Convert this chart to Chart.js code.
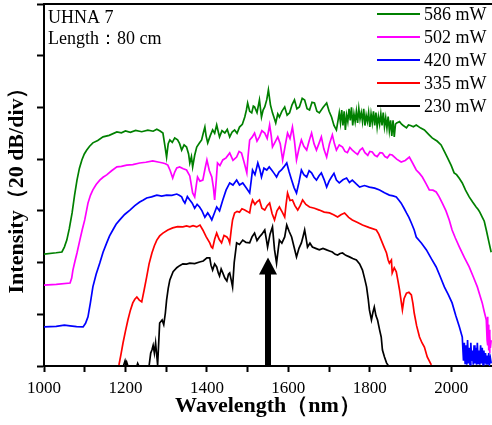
<!DOCTYPE html>
<html>
<head>
<meta charset="utf-8">
<script src="https://cdn.jsdelivr.net/npm/chart.js@4.4.0/dist/chart.umd.min.js"></script>
<style>
  body { margin: 0; background: #fff; }
  canvas { display: block; }
</style>
</head>
<body>
<canvas id="spectrum" width="492" height="425"></canvas>
<script>
// Supercontinuum spectra, UHNA 7 fibre, 80 cm, for five pump powers
const powers = ['586 mW', '502 mW', '420 mW', '335 mW', '230 mW'];
const lineColors = ['#008000', '#ff00ff', '#0000ff', '#ff0000', '#000000'];

// wavelength (nm), intensity (dB, 20 dB per division)
const spec586 = [
    [1000, 43.3], [1030, 43.8], [1044, 44.1], [1050, 46], [1056, 48.7], [1062, 53], [1069, 59.2],
    [1075, 66], [1081, 71.9], [1087, 76.5], [1093, 79.7], [1099, 82], [1105, 83.5], [1112, 85],
    [1120, 86.3], [1132, 87.2], [1145, 88.6], [1160, 89.2], [1179, 90.5], [1190, 90.2], [1200, 90.9],
    [1212, 90.4], [1225, 91.1], [1240, 90.6], [1255, 91.2], [1268, 90.8], [1277, 91.6], [1285, 90.9],
    [1292, 90.1], [1297, 85], [1301, 80.8], [1305, 86], [1309, 87.4], [1315, 86.5], [1321, 88.2],
    [1328, 87.5], [1333, 86], [1338, 83.5], [1344, 85.5], [1350, 84.7], [1355, 82], [1358, 78.5],
    [1362, 81], [1365, 77], [1370, 81.5], [1375, 84.7], [1382, 86.3], [1387, 87.4], [1391, 90],
    [1395, 92.4], [1398, 89], [1402, 86.3], [1408, 89], [1414, 91.3], [1419, 90], [1424, 93.2],
    [1428, 90.5], [1431, 88.6], [1437, 91], [1444, 90.1], [1450, 91.5], [1456, 88.6], [1462, 90.5],
    [1468, 91.3], [1474, 90], [1480, 92.4], [1487, 93.5], [1493, 96.3], [1497, 99], [1500, 101.7],
    [1505, 98.5], [1510, 97.9], [1514, 100.5], [1517, 100.2], [1523, 98], [1529, 102.9], [1534, 96.3],
    [1538, 99], [1542, 100.2], [1547, 103], [1551, 106.8], [1556, 101], [1561, 97.9], [1565, 96],
    [1569, 94], [1574, 97.5], [1578, 96.3], [1584, 98.5], [1591, 100.2], [1597, 97], [1603, 97.9],
    [1609, 101], [1615, 102.9], [1621, 99.5], [1627, 100.2], [1634, 103.5], [1640, 102.9], [1646, 99.5],
    [1652, 99], [1658, 102], [1664, 101.7], [1670, 98.5], [1676, 97.9], [1685, 100], [1694, 101.7],
    [1700, 98.5], [1706, 96.3], [1712, 93], [1718, 91.3], [1722, 95], [1725, 97.9], [1728, 94],
    [1731, 99], [1734, 93], [1737, 98.5], [1740, 91.3], [1743, 97], [1746, 94.5], [1749, 99.5],
    [1752, 95], [1755, 100], [1758, 93], [1761, 97.5], [1764, 94.5], [1767, 98.5], [1770, 94],
    [1773, 99.5], [1776, 95.5], [1779, 98], [1782, 94.5], [1785, 99.5], [1788, 93], [1791, 97],
    [1794, 94.5], [1797, 98], [1800, 92.5], [1803, 97.5], [1806, 94], [1809, 98.5], [1812, 93],
    [1815, 98], [1818, 92.5], [1821, 96.5], [1824, 93.5], [1827, 97.5], [1830, 93], [1833, 98],
    [1836, 92.5], [1839, 96], [1842, 92], [1845, 96.5], [1848, 91], [1851, 95], [1854, 89],
    [1857, 95], [1860, 88.6], [1863, 93.5], [1866, 94], [1873, 94.5], [1878, 93.5], [1882, 93],
    [1890, 92.1], [1895, 93.2], [1900, 93], [1907, 92.5], [1914, 93.2], [1925, 92], [1934, 91.3],
    [1945, 89.5], [1953, 88.2], [1960, 87.5], [1965, 87], [1975, 85.5], [1983, 83], [1990, 80.8],
    [2000, 77.5], [2007, 74.7], [2013, 74], [2020, 72.5], [2027, 70.8], [2035, 68], [2044, 65.4],
    [2052, 63.5], [2061, 61.5], [2066, 60.5], [2070, 59.5], [2076, 57.6], [2081, 56], [2086, 52.6],
    [2093, 47.5], [2098, 44]
];
const spec502 = [
    [1000, 31.3], [1030, 31.6], [1064, 32.1], [1068, 34], [1071, 37.1], [1076, 40.5], [1081, 43.7],
    [1088, 48.7], [1094, 52.8], [1100, 56.5], [1108, 63], [1114, 66], [1120, 68.1], [1128, 70.2],
    [1137, 71.9], [1145, 73], [1154, 73.9], [1166, 75.5], [1179, 77], [1190, 77.2], [1203, 77.7],
    [1218, 77.9], [1235, 78.5], [1250, 78.8], [1267, 79.3], [1280, 78.9], [1292, 78.5], [1298, 78.2],
    [1304, 77.7], [1310, 75.5], [1316, 72.7], [1321, 75], [1326, 76.6], [1333, 77], [1342, 76.3],
    [1350, 75.8], [1358, 73.5], [1365, 66.9], [1370, 65.4], [1374, 70], [1377, 73.1], [1383, 71.5],
    [1390, 71.9], [1395, 76], [1400, 79.7], [1406, 75.5], [1412, 73.1], [1416, 69], [1419, 64.2],
    [1423, 72], [1426, 78.5], [1432, 77.5], [1439, 79.7], [1447, 80.5], [1456, 82.4], [1464, 79.5],
    [1473, 80.8], [1479, 83], [1485, 82.4], [1491, 79], [1498, 74.7], [1501, 81], [1505, 87.4],
    [1511, 88.5], [1517, 90.1], [1523, 87], [1529, 88.6], [1535, 91], [1542, 90.1], [1548, 88],
    [1554, 93.2], [1558, 89], [1561, 84.7], [1567, 86.5], [1574, 88.6], [1580, 86], [1586, 79.7],
    [1592, 85], [1598, 90.1], [1604, 88], [1610, 92.4], [1615, 87], [1620, 79.7], [1626, 84],
    [1632, 87.4], [1638, 85], [1645, 83.5], [1651, 87], [1657, 90.1], [1663, 86], [1669, 83.5],
    [1675, 86], [1681, 88.6], [1687, 84], [1694, 80.8], [1701, 86], [1708, 89.4], [1713, 86],
    [1718, 83.5], [1725, 85.5], [1733, 84.7], [1739, 83], [1745, 82.5], [1751, 84.5], [1757, 83.5],
    [1764, 82.5], [1770, 81.8], [1776, 83.5], [1782, 84.3], [1788, 82.5], [1795, 81.5], [1800, 83],
    [1806, 82.8], [1812, 81.5], [1818, 81], [1825, 82.5], [1831, 82.4], [1837, 81], [1843, 80.5],
    [1849, 81.8], [1855, 81.6], [1866, 80], [1877, 78.9], [1887, 79.5], [1897, 80.8], [1905, 78.5],
    [1914, 75.8], [1922, 74.5], [1929, 73.1], [1938, 70.5], [1946, 68.1], [1955, 68], [1963, 67.3],
    [1970, 65.5], [1978, 63], [1987, 60], [1995, 56.5], [2002, 52.6], [2010, 49.5], [2020, 46],
    [2032, 42], [2044, 38.3], [2054, 34.5], [2064, 30.6], [2070, 27.5], [2076, 24.4], [2081, 21],
    [2086, 17.8], [2088, 10], [2089, 19], [2090, 8], [2091, 16], [2092, 6], [2093, 14], [2094, 5],
    [2095, 12], [2096, 7], [2098, 10]
];
const spec420 = [
    [1000, 15.1], [1030, 15.3], [1050, 15.8], [1064, 15.5], [1080, 15.2], [1096, 15.1], [1102, 16.5],
    [1108, 19], [1114, 24.5], [1120, 30.6], [1128, 35.5], [1137, 39.8], [1145, 44], [1154, 47.6],
    [1161, 50.3], [1169, 52.6], [1177, 54.8], [1186, 56.5], [1198, 58.6], [1211, 60.3], [1223, 62],
    [1235, 63.4], [1244, 64.2], [1252, 65], [1264, 65.4], [1277, 66.1], [1289, 65.7], [1301, 66.1],
    [1314, 66], [1326, 66.5], [1332, 66], [1338, 65.4], [1342, 64], [1346, 63], [1352, 65.5],
    [1358, 64.2], [1364, 63], [1370, 61], [1376, 62.5], [1382, 61.5], [1388, 60], [1395, 57.5],
    [1402, 59.2], [1407, 58], [1412, 56.5], [1418, 59], [1424, 61.5], [1431, 60], [1439, 64.2],
    [1447, 68], [1456, 70.8], [1464, 70], [1473, 71.9], [1480, 70], [1488, 70.8], [1496, 69],
    [1505, 66.9], [1509, 72], [1512, 75.8], [1518, 74], [1525, 78.5], [1530, 76], [1534, 73.1],
    [1540, 76.5], [1547, 75.8], [1553, 77], [1559, 75.8], [1565, 74.5], [1571, 73.1], [1577, 75],
    [1583, 75.8], [1589, 77], [1596, 78.5], [1602, 75], [1608, 71.9], [1614, 69], [1620, 66.9],
    [1626, 71], [1632, 75.8], [1638, 74], [1645, 73.1], [1651, 75.5], [1657, 74.7], [1663, 73],
    [1669, 71.9], [1675, 73.5], [1681, 74.7], [1688, 72], [1694, 69.2], [1700, 71.5], [1706, 73.1],
    [1712, 74.5], [1718, 71.9], [1725, 70.8], [1734, 72], [1743, 72.7], [1750, 71], [1757, 71.9],
    [1766, 70.5], [1775, 69.2], [1787, 69.8], [1799, 69.2], [1812, 68.8], [1824, 68.1], [1836, 67],
    [1848, 66.1], [1857, 65.8], [1865, 65.4], [1871, 64.2], [1877, 63], [1884, 61], [1890, 59.2],
    [1896, 57.5], [1902, 55.3], [1909, 52.6], [1914, 49.9], [1927, 47.5], [1939, 44.9], [1951, 41.5],
    [1963, 38.3], [1973, 34.5], [1983, 30.6], [1993, 27.5], [2002, 24.4], [2011, 19.5], [2020, 15.1],
    [2027, 11.2], [2030, 2], [2032, 9], [2034, 1], [2036, 8], [2038, 0.5], [2040, 10], [2042, 1],
    [2044, 7], [2046, 0.5], [2048, 9], [2050, 2], [2052, 6], [2054, 0.5], [2056, 8], [2058, 1],
    [2060, 7], [2062, 0.5], [2064, 9], [2066, 1], [2068, 6], [2070, 0.5], [2072, 8], [2074, 1],
    [2076, 7], [2078, 0.5], [2080, 6], [2082, 1], [2084, 5], [2086, 0.5], [2088, 4], [2090, 0.5],
    [2092, 5], [2094, 1], [2096, 3], [2098, 1]
];
const spec335 = [
    [1184, 0.4], [1189, 4.5], [1194, 8.9], [1200, 13.5], [1206, 17.8], [1212, 21.5], [1218, 24.4],
    [1223, 25.8], [1228, 26.7], [1234, 25.5], [1240, 24.8], [1246, 29.5], [1252, 34.4], [1258, 39.5],
    [1265, 43.7], [1271, 46.5], [1277, 48.7], [1284, 50.3], [1292, 51.4], [1304, 52.6], [1316, 53.4],
    [1328, 53.9], [1341, 53.8], [1350, 54.2], [1358, 53.8], [1366, 54.3], [1375, 53.8], [1383, 54.5],
    [1390, 52.6], [1398, 50], [1407, 47.6], [1411, 46], [1414, 45.6], [1419, 49], [1424, 51.4],
    [1430, 49], [1436, 47.6], [1442, 50.5], [1449, 49.9], [1453, 49], [1456, 47.6], [1460, 53],
    [1463, 56.5], [1468, 59.2], [1474, 59.8], [1480, 59.5], [1486, 60.8], [1493, 60.3], [1499, 59.8],
    [1505, 59.2], [1508, 62], [1512, 64.2], [1518, 62.5], [1523, 63.5], [1529, 64.2], [1535, 61],
    [1542, 60.3], [1548, 62], [1554, 63], [1560, 59], [1566, 56.5], [1572, 60], [1578, 61.5],
    [1585, 59.5], [1591, 57.6], [1594, 62], [1598, 66.9], [1604, 64], [1610, 64.2], [1616, 62],
    [1623, 60.3], [1629, 62], [1635, 64.2], [1643, 62.5], [1652, 61.5], [1664, 61], [1676, 60.3],
    [1688, 59.5], [1701, 59.2], [1711, 58.5], [1721, 57.6], [1729, 58.5], [1738, 59.2], [1748, 57.5],
    [1757, 56.5], [1770, 55.5], [1782, 54.5], [1799, 53.5], [1816, 52.6], [1822, 51], [1828, 48.7],
    [1835, 46], [1841, 43.7], [1845, 41], [1848, 39.8], [1853, 41], [1855, 36], [1860, 38],
    [1865, 36.4], [1869, 33], [1873, 29.4], [1877, 25], [1880, 21.7], [1884, 26], [1890, 28.2],
    [1896, 28.5], [1902, 27.5], [1906, 24], [1909, 20.5], [1915, 15.5], [1922, 11.2], [1928, 9],
    [1934, 7.3], [1941, 3.5], [1951, 0.4]
];
const spec230 = [
    [1195, 0], [1199, 2], [1201, 0.5], [1203, 1.5], [1206, 0], [1228, 0], [1230, 1], [1233, 0],
    [1258, 0], [1262, 5], [1265, 6.2], [1268, 8], [1271, 5], [1274, 8.9], [1279, 0.4], [1284, 16.6],
    [1290, 17.8], [1294, 16], [1298, 20.5], [1301, 25.5], [1305, 30], [1309, 33.3], [1317, 36.5],
    [1326, 38], [1333, 38.8], [1341, 39.5], [1350, 39.4], [1358, 39.8], [1370, 39.6], [1382, 40.2],
    [1391, 40.6], [1400, 41.8], [1407, 41.8], [1410, 39], [1414, 37.1], [1419, 39.5], [1424, 38.3],
    [1428, 36], [1431, 34.8], [1435, 37.5], [1439, 36], [1444, 34], [1449, 32.9], [1453, 35.5],
    [1456, 36], [1460, 33], [1463, 30.6], [1467, 40], [1473, 47.6], [1480, 47], [1488, 48.7],
    [1496, 47.8], [1505, 47.6], [1511, 50], [1517, 51.4], [1523, 48.5], [1529, 49.9], [1535, 51],
    [1542, 52.6], [1546, 49], [1549, 46], [1555, 51], [1561, 53.8], [1566, 45], [1571, 39.8],
    [1575, 45], [1578, 48.7], [1584, 47.5], [1591, 49.9], [1596, 54.5], [1602, 52], [1608, 49.9],
    [1614, 46], [1620, 42.2], [1626, 45.5], [1632, 47.6], [1636, 50], [1640, 52.6], [1644, 49],
    [1647, 46], [1653, 47.5], [1659, 46], [1667, 45.5], [1676, 44.9], [1685, 45.5], [1694, 44.9],
    [1701, 44.5], [1708, 44.1], [1715, 43.2], [1721, 42.9], [1727, 43.5], [1733, 43.7], [1741, 42.8],
    [1750, 42.2], [1758, 41.6], [1767, 41], [1775, 39.5], [1782, 37.1], [1787, 34], [1792, 30.6],
    [1796, 26], [1799, 21.7], [1804, 17.8], [1808, 21], [1811, 22.8], [1815, 19.5], [1819, 17.8],
    [1824, 14], [1828, 11.2], [1831, 6.2], [1836, 3.5], [1841, 1.2], [1846, 0]
];
const spectra = [spec586, spec502, spec420, spec335, spec230];

const xMajorTicks = [1000, 1200, 1400, 1600, 1800, 2000];
const xMinorTicks = [1100, 1300, 1500, 1700, 1900];
const pumpWavelength = 1550;   // pump marked by the arrow
const arrowTip = 42;
const notes = ['UHNA 7', 'Length：80 cm'];

const serif = "'Liberation Serif', 'Times New Roman', serif";

// top border of the frame, legend block, fibre note and pump arrow
const decorations = {
    id: 'decorations',
    afterDatasetsDraw(chart) {
        const { ctx, chartArea: a, scales: { x, y } } = chart;
        ctx.save();

        // pump arrow
        const px = x.getPixelForValue(pumpWavelength);
        const yBase = y.getPixelForValue(0);
        const yTip = y.getPixelForValue(arrowTip);
        const headH = 17;
        ctx.fillStyle = '#000';
        ctx.fillRect(px - 3, yTip + headH - 1, 6, yBase - yTip - headH + 1);
        ctx.beginPath();
        ctx.moveTo(px, yTip);
        ctx.lineTo(px - 9, yTip + headH);
        ctx.lineTo(px + 9, yTip + headH);
        ctx.closePath();
        ctx.fill();

        // top frame line
        ctx.strokeStyle = '#000';
        ctx.lineWidth = 2;
        ctx.beginPath();
        ctx.moveTo(a.left - 1, a.top);
        ctx.lineTo(a.right, a.top);
        ctx.stroke();

        // legend
        ctx.font = '18px ' + serif;
        ctx.textBaseline = 'middle';
        ctx.textAlign = 'left';
        chart.data.datasets.forEach((ds, i) => {
            const ly = 14 + i * 23;
            ctx.strokeStyle = ds.borderColor;
            ctx.lineWidth = 2;
            ctx.beginPath();
            ctx.moveTo(377, ly);
            ctx.lineTo(420, ly);
            ctx.stroke();
            ctx.fillStyle = '#000';
            ctx.fillText(ds.label, 424, ly + 1);
        });

        // fibre note
        notes.forEach((t, i) => ctx.fillText(t, 48, 18 + i * 21));
        ctx.restore();
    }
};

new Chart(document.getElementById('spectrum'), {
    type: 'line',
    data: {
        datasets: spectra.map((s, i) => ({
            label: powers[i],
            data: s.map(p => ({ x: p[0], y: p[1] })),
            borderColor: lineColors[i],
            borderWidth: 1.7,
            pointRadius: 0,
            tension: 0,
            fill: false
        }))
    },
    options: {
        responsive: false,
        animation: false,
        layout: { padding: { top: 4, right: 0, left: 0, bottom: 0 } },
        plugins: { legend: { display: false }, tooltip: { enabled: false } },
        scales: {
            x: {
                type: 'linear',
                min: 1000,
                max: 2100,
                afterBuildTicks: scale => {
                    scale.ticks = xMajorTicks.concat(xMinorTicks).sort((a, b) => a - b).map(v => ({ value: v }));
                },
                afterFit: scale => { scale.height = 59; },
                ticks: {
                    autoSkip: false,
                    maxRotation: 0,
                    padding: 6,
                    color: '#000',
                    font: { family: serif, size: 17 },
                    callback: v => xMajorTicks.includes(v) ? String(v) : ''
                },
                grid: { drawOnChartArea: false, tickLength: 6, tickColor: '#000', tickWidth: 2 },
                border: { color: '#000', width: 2 },
                title: {
                    display: true,
                    text: 'Wavelength（nm）',
                    color: '#000',
                    font: { family: serif, size: 22, weight: 'bold' },
                    padding: { top: 0, bottom: 5 }
                }
            },
            y: {
                min: 0,
                max: 140,
                ticks: { stepSize: 20, display: false },
                afterFit: scale => { scale.width = 44; },
                grid: { drawOnChartArea: false, tickLength: 7, tickColor: '#000', tickWidth: 2 },
                border: { color: '#000', width: 2 },
                title: {
                    display: true,
                    text: 'Intensity（20 dB/div）',
                    color: '#000',
                    font: { family: serif, size: 22, weight: 'bold' },
                    padding: { top: 4, bottom: 0 }
                }
            }
        }
    },
    plugins: [decorations]
});
</script>
</body>
</html>
